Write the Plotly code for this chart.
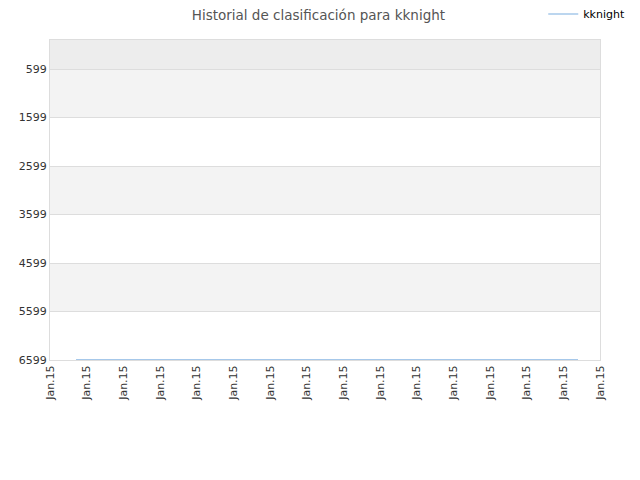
import plotly.graph_objects as go

# ranking history of kknight (positions along the x axis, all on Jan.15)
x_pos = [0.71, 14.4]
ranks = [6592, 6592]
tick_pos = list(range(0, 16))
tick_text = ['Jan.15'] * 16
y_ticks = [599, 1599, 2599, 3599, 4599, 5599, 6599]

fig = go.Figure()
fig.add_trace(go.Scatter(x=x_pos, y=ranks, mode='lines', name='kknight',
                         line=dict(color='#a6c8ea', width=1.5)))

# alternating background bands
bands = [(1, 599, '#ededed'), (599, 1599, '#f3f3f3'), (2599, 3599, '#f3f3f3'),
         (4599, 5599, '#f3f3f3')]
for y0, y1, col in bands:
    fig.add_shape(type='rect', xref='paper', yref='y', x0=0, x1=1, y0=y0, y1=y1,
                  fillcolor=col, line_width=0, layer='below')

# the page puts the figure 8px in from the corner, so margins are shifted
fig.update_layout(
    width=640, height=480,
    margin=dict(l=42, r=48, t=32, b=128, autoexpand=False),
    paper_bgcolor='white', plot_bgcolor='white',
    font=dict(family='DejaVu Sans', size=11, color='#333333'),
    title=dict(text='Historial de clasificación para kknight', x=0.485, xanchor='center',
               y=0.994, yanchor='top', font=dict(size=13.5, color='#555555')),
    showlegend=True,
    legend=dict(x=1.055, y=1.081, xanchor='right', yanchor='middle',
                font=dict(size=11, color='#000000'), itemwidth=30,
                bgcolor='rgba(0,0,0,0)'),
    xaxis=dict(range=[0, 15], tickvals=tick_pos, ticktext=tick_text, tickangle=-90,
               showgrid=False, zeroline=False, showline=True, linecolor='#dddddd',
               mirror=True, ticks='', tickfont=dict(size=11, color='#333333')),
    yaxis=dict(range=[6599, 1], tickvals=y_ticks, showgrid=True, gridcolor='#dddddd',
               zeroline=False, showline=True, linecolor='#dddddd', mirror=True,
               ticks='', tickfont=dict(size=11, color='#333333')),
)

fig.write_html('out.html')
